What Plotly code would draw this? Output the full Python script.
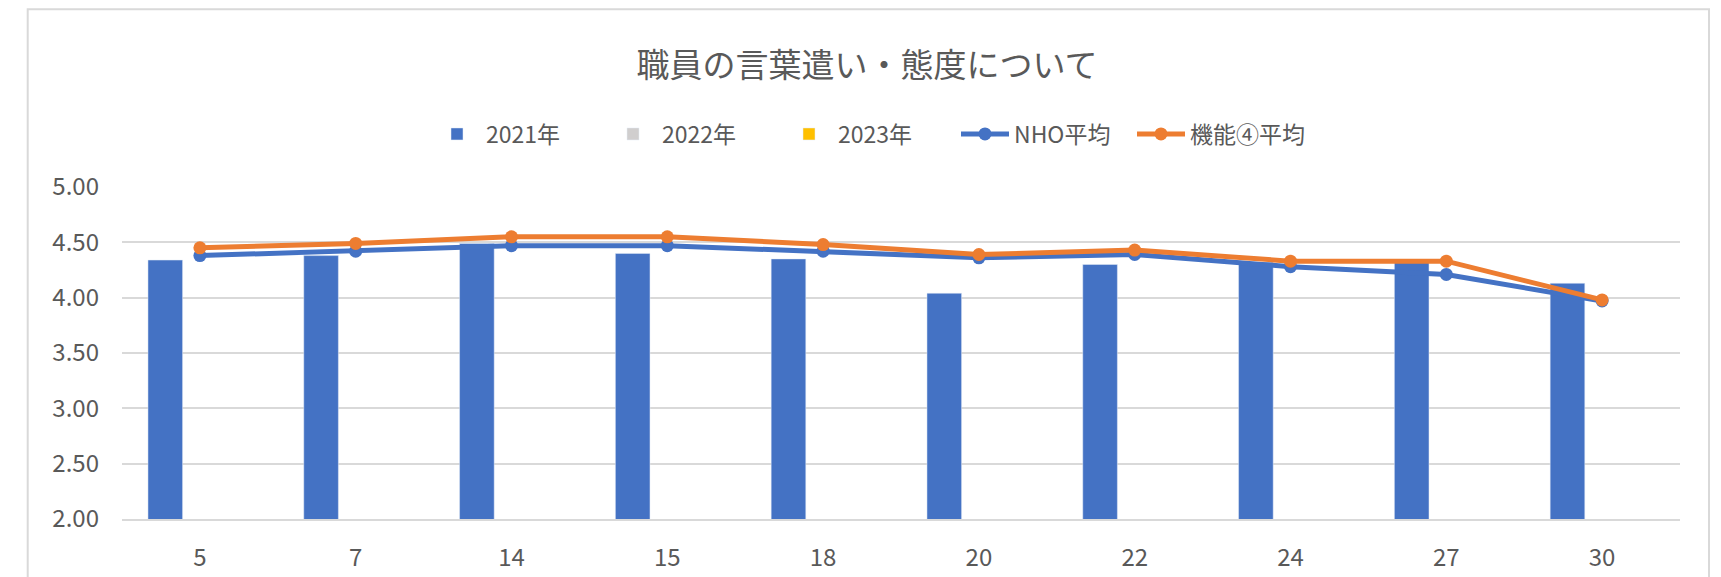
import plotly.graph_objects as go

categories = ["5", "7", "14", "15", "18", "20", "22", "24", "27", "30"]
y2021 = [4.34, 4.38, 4.49, 4.40, 4.35, 4.04, 4.30, 4.32, 4.33, 4.13]
y2022 = [None] * 10
y2023 = [None] * 10
nho_avg = [4.38, 4.42, 4.47, 4.47, 4.42, 4.36, 4.39, 4.28, 4.21, 3.97]
kino_avg = [4.45, 4.49, 4.55, 4.55, 4.48, 4.39, 4.43, 4.33, 4.33, 3.98]
y_ticks = [2.0, 2.5, 3.0, 3.5, 4.0, 4.5, 5.0]

FONT = "Noto Sans CJK JP"
TXT = "#595959"

fig = go.Figure()
fig.add_trace(go.Bar(x=categories, y=y2021, name="2021年", marker_color="#4472C4"))
fig.add_trace(go.Bar(x=categories, y=y2022, name="2022年", marker_color="#D0CECE"))
fig.add_trace(go.Bar(x=categories, y=y2023, name="2023年", marker_color="#FFC000"))
fig.add_trace(go.Scatter(x=categories, y=nho_avg, name="NHO平均", mode="lines+markers",
                         line=dict(color="#4472C4", width=5), marker=dict(size=13, color="#4472C4")))
fig.add_trace(go.Scatter(x=categories, y=kino_avg, name="機能④平均", mode="lines+markers",
                         line=dict(color="#ED7D31", width=5), marker=dict(size=13, color="#ED7D31")))

W, H = 1721, 577
L, R, T, B = 122, 1680, 187, 519
pw, ph = R - L, B - T

def px(x):
    return (x - L) / pw

def py(y):
    return (B - y) / ph

fig.update_layout(
    width=W, height=H,
    margin=dict(l=L, r=W - R, t=T, b=H - B, pad=0, autoexpand=False),
    paper_bgcolor="white", plot_bgcolor="white",
    barmode="group", bargap=1/3, bargroupgap=0,
    font=dict(family=FONT, color=TXT, size=24),
    title=dict(text="職員の言葉遣い・態度について", font=dict(family=FONT, size=33, color=TXT),
               xref="paper", x=px(867), xanchor="center",
               yref="container", y=1 - 65 / H, yanchor="middle"),
    legend=dict(orientation="h", x=px(868), xanchor="center", y=py(134), yanchor="middle",
                font=dict(family=FONT, size=23, color=TXT), bgcolor="rgba(0,0,0,0)",
                traceorder="normal", itemwidth=48, entrywidth=113, entrywidthmode="pixels"),
    showlegend=True,
    xaxis=dict(type="category", range=[-0.5, len(categories) - 0.5],
               showgrid=False, showline=True, linecolor="#D9D9D9", linewidth=2,
               ticks="", tickfont=dict(size=24, color=TXT), ticklabelstandoff=16,
               automargin=False, fixedrange=True),
    yaxis=dict(range=[2, 5], tickvals=y_ticks, ticktext=[f"{v:.2f}" for v in y_ticks],
               showgrid=True, gridcolor="#D9D9D9", gridwidth=2, zeroline=False, showline=False,
               ticks="", tickfont=dict(size=24, color=TXT), ticklabelstandoff=22,
               automargin=False, fixedrange=True),
    shapes=[dict(type="rect", xref="paper", yref="paper",
                 x0=px(27.7), x1=px(1709), y0=py(600), y1=py(9.3),
                 line=dict(color="#D9D9D9", width=2), fillcolor="rgba(0,0,0,0)", layer="below")],
)

fig.write_html("out.html", config={"displayModeBar": False},
               post_script="document.body.style.margin='0';document.body.style.overflow='hidden';")
